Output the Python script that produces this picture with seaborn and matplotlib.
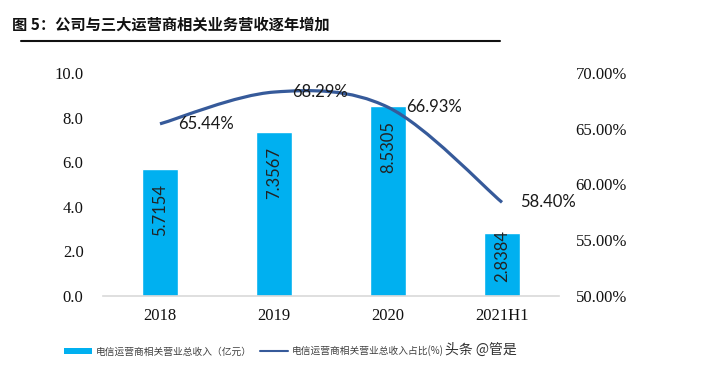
import numpy as np
import pandas as pd
import matplotlib
matplotlib.use("Agg")
import matplotlib.pyplot as plt
import seaborn as sns
from matplotlib.path import Path
from matplotlib.patches import PathPatch, Patch
from matplotlib.lines import Line2D

# data
years = ["2018", "2019", "2020", "2021H1"]
revenue = [5.7154, 7.3567, 8.5305, 2.8384]          # 亿元
share = [65.44, 68.29, 66.93, 58.40]                 # %

bar_color = "#00B0F0"
line_color = "#365A9A"

sns.set_style("white")
plt.rcParams['font.family'] = ['Noto Sans CJK SC', 'DejaVu Sans']

fig = plt.figure(figsize=(7.12, 3.75), dpi=100)
ax = fig.add_axes([103 / 712, 1 - 296 / 375, (559 - 103) / 712, (296 - 73) / 375])

df = pd.DataFrame({"year": years, "revenue": revenue})
sns.barplot(data=df, x="year", y="revenue", color=bar_color, saturation=1,
            width=0.31, ax=ax, zorder=2)

ax.set_xlim(-0.5, len(years) - 0.5)
ax.set_ylim(0, 10)
ax.set_yticks(np.arange(0, 10.1, 2))
ax.set_yticklabels([f"{v:.1f}" for v in np.arange(0, 10.1, 2)])
ax.set_xlabel("")
ax.set_ylabel("")
for s in ["left", "right", "top"]:
    ax.spines[s].set_visible(False)
ax.spines["bottom"].set_color("#D9D9D9")
ax.spines["bottom"].set_linewidth(1.2)
ax.tick_params(axis="y", length=0, pad=14)
ax.tick_params(axis="x", length=0, pad=9)
for lab in ax.get_xticklabels() + ax.get_yticklabels():
    lab.set_fontfamily("Liberation Serif")
    lab.set_fontsize(12)
    lab.set_color("#111111")

# values written inside the bars
for i, v in enumerate(revenue):
    off = -11 if v > 4 else 2
    ax.annotate(f"{v:.4f}", xy=(i, v), xytext=(0, off), textcoords="offset points",
                rotation=90, ha="center", va="top", fontsize=12,
                fontfamily="Lato", color="#222222", zorder=5)

# share on the right axis, smoothed like an Excel line
ax2 = ax.twinx()
ax2.set_ylim(50, 70)
ticks2 = np.arange(50, 70.1, 5)
ax2.set_yticks(ticks2)
ax2.set_yticklabels([f"{t:.2f}%" for t in ticks2])
for s in ["left", "right", "top", "bottom"]:
    ax2.spines[s].set_visible(False)
ax2.tick_params(axis="y", length=0, pad=12)
for lab in ax2.get_yticklabels():
    lab.set_fontfamily("Liberation Serif")
    lab.set_fontsize(12)
    lab.set_color("#111111")

pts = np.column_stack([np.arange(len(share)), share]).astype(float)
ext = np.vstack([pts[0], pts, pts[-1]])
verts = [tuple(pts[0])]
codes = [Path.MOVETO]
for k in range(len(pts) - 1):
    p0, p1, p2, p3 = ext[k], ext[k + 1], ext[k + 2], ext[k + 3]
    c1 = p1 + (p2 - p0) / 6
    c2 = p2 - (p3 - p1) / 6
    verts += [tuple(c1), tuple(c2), tuple(p2)]
    codes += [Path.CURVE4] * 3
ax2.add_patch(PathPatch(Path(verts, codes), fill=False, edgecolor=line_color,
                        linewidth=2.3, capstyle="butt", zorder=3))

for i, v in enumerate(share):
    ax2.annotate(f"{v:.2f}%", xy=(i, v), xytext=(13, 0), textcoords="offset points",
                 ha="left", va="center", fontsize=12, fontfamily="Lato",
                 color="#1a1a1a", zorder=6)

# title and rule under it
fig.text(12 / 712, 1 - 25 / 375, "图 5：公司与三大运营商相关业务营收逐年增加",
         fontsize=11, fontweight="bold", ha="left", va="center", color="#111111")
fig.add_artist(Line2D([21 / 712, 500 / 712], [1 - 40.5 / 375] * 2,
                      transform=fig.transFigure, color="#111111", linewidth=1.5))

# legend
handles = [Patch(facecolor=bar_color, edgecolor="none"),
           Line2D([], [], color=line_color, linewidth=1.5)]
labels = ["电信运营商相关营业总收入（亿元）", "电信运营商相关营业总收入占比(%)"]
fig.legend(handles, labels, ncol=2, loc="center", bbox_to_anchor=(254 / 712, 1 - 351 / 375),
           frameon=False, fontsize=7, handlelength=2.9, handleheight=0.6,
           handletextpad=0.4, columnspacing=0.8, labelcolor="#404040")

fig.text(445 / 712, 1 - 350 / 375, "头条 @管是", fontsize=10, ha="left", va="center",
         color="#333333")

fig.savefig("out.png", dpi=100)
